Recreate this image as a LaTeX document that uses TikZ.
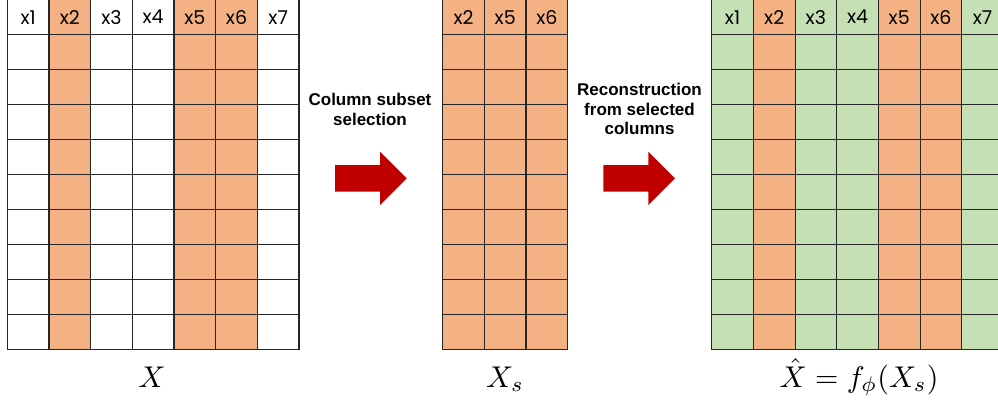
\documentclass[tikz,border=0pt]{standalone}
\usepackage{fontspec}
\usepackage{graphicx}
\newfontfamily\hdrfont{Poppins}
\newfontfamily\capfont{Liberation Sans}
\definecolor{sel}{HTML}{F4B183}
\definecolor{rec}{HTML}{C5E0B4}
\definecolor{arrowred}{HTML}{C00000}
\usetikzlibrary{calc}

\tikzset{
  cell/.style={draw=black!85, line width=1.1pt, minimum width=41.67pt,
    minimum height=34.96pt, inner sep=0pt, outer sep=0pt},
  hdr/.style={font=\hdrfont\fontsize{19}{22}\selectfont, inner sep=0pt},
  steplabel/.style={font=\capfont\bfseries\fontsize{17}{19.2}\selectfont,
    align=center, inner sep=0pt},
  mathlabel/.style={anchor=base, inner sep=0pt},
  blockarrow/.style={fill=arrowred}
}

% one data matrix: #1 name prefix, #2 left edge, #3 column list label/colour
\newcommand\datagrid[3]{%
  \foreach \lab/\col [count=\i from 0] in {#3} {
    \foreach \j in {0,...,9} {
      \node[cell, fill=\col] (#1-\i-\j) at ({#2+(\i+0.5)*41.67}, {-0.3+(\j+0.5)*34.96}) {};
    }
    \node[hdr] (#1-h\i) at (#1-\i-0) {\lab};
  }%
}

% block arrow whose shaft starts at coordinate #1
\newcommand\blockarrow[1]{%
  \fill[blockarrow] ($(#1)+(0,-13.3)$) -- ++(45,0) -- ++(0,-13.4) -- ++(26.7,26.7)
    -- ++(-26.7,26.7) -- ++(0,-13.4) -- ++(-45,0) -- cycle;%
}

\begin{document}
\begin{tikzpicture}[x=1pt, y=-1pt]
\useasboundingbox (0,0) rectangle (998,402);
\clip (0,0) rectangle (998,402);

\datagrid{X}{7.3}{x1/white, x2/sel, x3/white, x4/white, x5/sel, x6/sel, x7/white}
\datagrid{S}{442.7}{x2/sel, x5/sel, x6/sel}
\datagrid{R}{711.7}{x1/rec, x2/sel, x3/rec, x4/rec, x5/sel, x6/sel, x7/rec}

\node[mathlabel] (lX) at (152,387) {\scalebox{3}{$X$}};
\node[mathlabel] (lS) at (505,387) {\scalebox{3}{$X_s$}};
\node[mathlabel] (lR) at (859,387) {\scalebox{3}{$\hat{X} = f_{\phi}(X_s)$}};

\node[steplabel] (t1) at (370,109.5) {Column subset\\selection};
\node[steplabel] (t2) at (639.5,109) {Reconstruction\\from selected\\columns};

\coordinate (a1) at (335,178.3);
\coordinate (a2) at (603.3,178.3);
\blockarrow{a1}
\blockarrow{a2}
\end{tikzpicture}
\end{document}
